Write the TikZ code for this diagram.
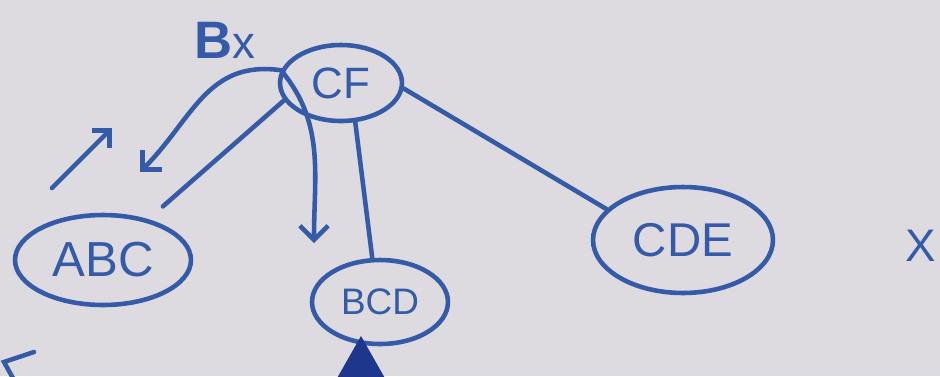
\documentclass[tikz,border=0pt]{standalone}
\usepackage{fontspec}
\setmainfont{Liberation Sans}
\usetikzlibrary{arrows.meta, shapes.geometric, positioning}
\definecolor{paper}{RGB}{221,219,224}
\definecolor{ink}{RGB}{52,90,168}
\definecolor{darkink}{RGB}{30,55,140}

\begin{document}
\begin{tikzpicture}[x=0.02cm, y=-0.02cm,
    >={Straight Barb[length=8pt,width=16pt]},
    set/.style={ellipse, draw=ink, line width=2.6pt, inner sep=0pt, text=ink},
    link/.style={draw=ink, line width=2.6pt, line cap=round}]
    \useasboundingbox (0,0) rectangle (940,376);
    \fill[paper] (0,0) rectangle (940,376);

    \node[set, minimum width=2.44cm, minimum height=1.52cm, font=\fontsize{25}{25}\selectfont] (cf) at (341,83) {CF};
    \node[set, minimum width=3.52cm, minimum height=1.8cm, font=\fontsize{28}{28}\selectfont] (abc) at (103,260) {ABC};
    \node[set, minimum width=2.72cm, minimum height=1.68cm, font=\fontsize{21}{21}\selectfont] (bcd) at (380,302) {BCD};
    \node[set, minimum width=3.6cm, minimum height=2.12cm, font=\fontsize{27}{27}\selectfont] (cde) at (683,240) {CDE};

    \node[text=ink, font=\bfseries\fontsize{30}{30}\selectfont] (bx) at (225,40) {B{\mdseries\fontsize{26}{26}\selectfont x}};
    \node[text=ink, font=\fontsize{26}{26}\selectfont] (xmark) at (921,246) {X};

    \coordinate (abctip) at (140,172);
    \coordinate (bcdtip) at (314,243);
    \coordinate (hintA) at (52,188);
    \coordinate (hintB) at (112,128);

    \draw[link, ->] (cf.168) to[out=172, in=45, looseness=1.1] (abctip);
    \draw[link, ->] (cf.168) to[out=-50, in=90] (bcdtip);
    \draw[link, shorten >=11pt] (cf.197) -- (abc.42);
    \draw[link] (cf.-70) -- (bcd.100);
    \draw[link] (cf.-5) -- (cde.158);
    \draw[link, ->, >={Straight Barb[length=7pt,width=14pt]}] (hintA) -- (hintB);

    % marks cut by the edge
    \fill[darkink] (361,336) -- (386,380) -- (336,380) -- cycle;
    \draw[link] (34,352) -- (4,362) -- (14,380);
\end{tikzpicture}
\end{document}
